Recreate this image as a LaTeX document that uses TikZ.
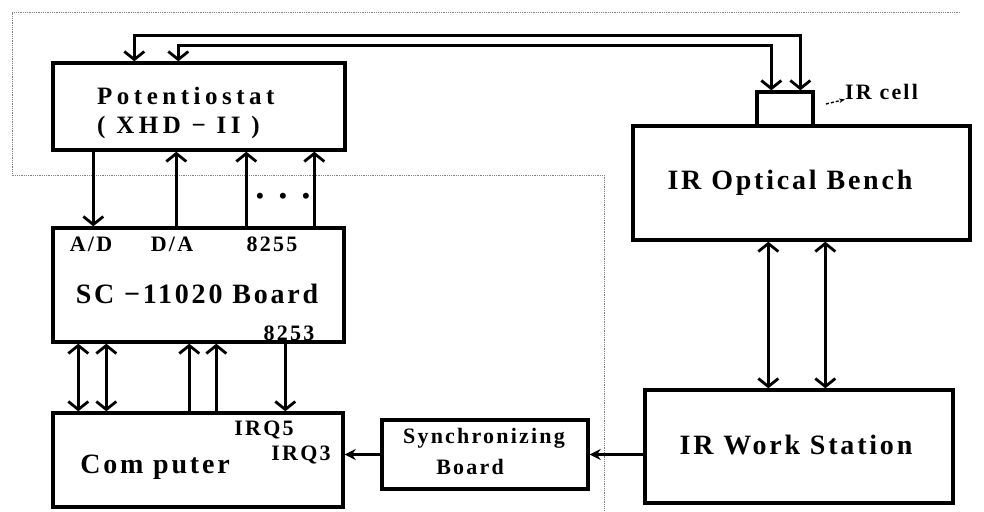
\documentclass[tikz,border=0pt]{standalone}
\usepackage{fontspec}
\setmainfont{Liberation Serif}
\newfontfamily\spcfont[LetterSpace=10]{Liberation Serif}
\newfontfamily\widefont[LetterSpace=18]{Liberation Serif}
\usepackage{tikz}
\usetikzlibrary{arrows.meta, positioning}

\tikzset{
  blk/.style={draw, line width=3.4pt, inner sep=0pt},
  txtL/.style={font=\spcfont\bfseries\fontsize{28}{30}\selectfont, inner sep=0pt},
  txtS/.style={font=\spcfont\bfseries\fontsize{22}{24}\selectfont, inner sep=0pt},
  txtW/.style={font=\widefont\bfseries\fontsize{25}{28.5}\selectfont, inner sep=0pt},
  conn/.style={line width=2.8pt},
  frame/.style={densely dotted, gray, line width=0.8pt},
  barb/.tip={Straight Barb[length=8pt, width=20pt]},
  harr/.tip={Stealth[length=11pt, width=11pt]}
}

\begin{document}
\begin{tikzpicture}[x=1pt, y=-1pt]
  \useasboundingbox (0,0) rectangle (984,511);

  % dotted frame
  \draw[frame] (960,12) -- (12,12) -- (12,175) -- (604,175) -- (604,511);

  % Boxes
  \node[blk, minimum width=292pt, minimum height=87pt] (pot) at (199,106.5) {};
  \node[blk, minimum width=291pt, minimum height=114pt] (sc) at (198.5,285) {};
  \node[blk, minimum width=290pt, minimum height=94pt] (comp) at (198,460) {};
  \node[blk, minimum width=206pt, minimum height=69pt] (sync) at (485,454.5) {};
  \node[blk, minimum width=56pt, minimum height=34pt] (cell) at (785,109) {};
  \node[blk, minimum width=337pt, minimum height=114pt] (bench) at (801.5,183) {};
  \node[blk, minimum width=308pt, minimum height=113pt] (ws) at (799,446.5) {};

  % Texts
  \node[txtW, align=left, anchor=west] (potname) at (97,113) {Potentiostat\\( XHD − II )};
  \node[txtS] (ad) at (91,244) {A/D};
  \node[txtS] (da) at (172,244) {D/A};
  \node[txtS] (ppi) at (272,244) {8255};
  \node[txtL] (scname) at (197,294) {SC −11020 Board};
  \node[txtS] (pit) at (289,333) {8253};
  \node[txtL] (compname) at (155,467) {Com puter};
  \node[txtS] (irqa) at (264,430) {IRQ5};
  \node[txtS] (irqb) at (301,455) {IRQ3};
  \node[txtS] (syncname) at (484,438) {Synchronizing};
  \node[txtS] (syncboard) at (470,467) {Board};
  \node[txtL] (benchname) at (790,183) {IR Optical Bench};
  \node[txtL] (wsname) at (796,445) {IR Work Station};
  \node[txtS, anchor=base west] (celllbl) at (845,99) {IR cell};
  \node[txtS] (dots) at (283,198) {•\ \ •\ \ •};

  % Potentiostat <-> SC board
  \draw[conn, -barb] ([xshift=42pt]pot.south west) -- ([xshift=42pt]sc.north west);
  \foreach \dx in {125,195,263}
    \draw[conn, -barb] ([xshift=\dx pt]sc.north west) -- ([xshift=\dx pt]pot.south west);

  % SC board <-> computer
  \foreach \dx in {27,55}
    \draw[conn, barb-barb] ([xshift=\dx pt]comp.north west) -- ([xshift=\dx pt]sc.south west);
  \foreach \dx in {138,165}
    \draw[conn, -barb] ([xshift=\dx pt]comp.north west) -- ([xshift=\dx pt]sc.south west);
  \draw[conn, -barb] ([xshift=234pt]sc.south west) -- ([xshift=234pt]comp.north west);

  % Potentiostat <-> IR cell
  \draw[conn, barb-barb] ([xshift=83pt]pot.north west) -- ++(0,-26) -| ([xshift=45pt]cell.north west);
  \draw[conn, barb-barb] ([xshift=127pt]pot.north west) -- ++(0,-16) -| ([xshift=16pt]cell.north west);

  % Bench <-> work station
  \draw[conn, barb-barb] ([xshift=137pt]bench.south west) -- ([xshift=125pt]ws.north west);
  \draw[conn, barb-barb] ([xshift=194pt]bench.south west) -- ([xshift=182pt]ws.north west);

  % Work station -> sync -> computer
  \draw[conn, -harr] (ws.west |- sync.east) -- (sync.east);
  \draw[conn, -harr] (sync.west) -- (sync.west -| comp.east);

  % IR cell pointer
  \coordinate (cellptr) at (826,104);
  \draw[densely dashed, line width=1.4pt, -{Stealth[length=6pt]}] (cellptr) -- (celllbl.south west);
\end{tikzpicture}
\end{document}
